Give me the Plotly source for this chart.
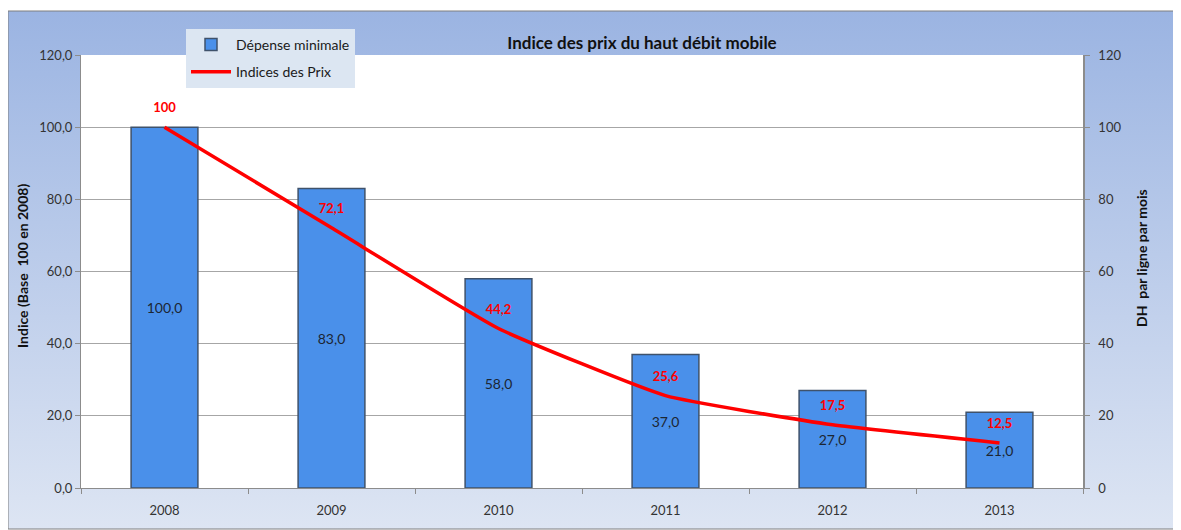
import base64
import plotly.graph_objects as go

# ---- data ----
years = ["2008", "2009", "2010", "2011", "2012", "2013"]
depense_minimale = [100.0, 83.0, 58.0, 37.0, 27.0, 21.0]
indices_prix = [100, 72.1, 44.2, 25.6, 17.5, 12.5]
left_tickvals = [0, 20, 40, 60, 80, 100, 120]
left_ticktext = ["0,0", "20,0", "40,0", "60,0", "80,0", "100,0", "120,0"]
right_tickvals = [0, 20, 40, 60, 80, 100, 120]
title_text = "Indice des prix du haut débit mobile"
left_title = "Indice (Base  100 en 2008)"
right_title = "DH  par ligne par mois"

FONT = "Lato, 'Open Sans', sans-serif"

# page offset (default body margin of the html page)
OFF = 8
PAGE_W, PAGE_H = 1181, 530
W, H = PAGE_W - OFF, PAGE_H - OFF
# plot area in page pixels
PX0, PX1, PY0, PY1 = 81, 1083, 55, 488
L, R, T, B = PX0 - OFF, (PAGE_W - PX1), PY0 - OFF, (PAGE_H - PY1)
pw, ph = PX1 - PX0, PY1 - PY0

def px_x(x):
    return (x - PX0) / pw

def px_y(y):
    return (PY1 - y) / ph

# gradient background for the chart frame
svg = (
    '<svg xmlns="http://www.w3.org/2000/svg" width="100" height="100" preserveAspectRatio="none">'
    '<defs><linearGradient id="g" x1="0" y1="0" x2="0" y2="1">'
    '<stop offset="0" stop-color="#9bb4e2"/><stop offset="1" stop-color="#dde5f3"/>'
    '</linearGradient></defs><rect width="100" height="100" fill="url(#g)"/></svg>'
)
svg_uri = "data:image/svg+xml;base64," + base64.b64encode(svg.encode()).decode()

fx0, fx1, fy0, fy1 = 8, 1178, 11, 529  # frame in page px

fig = go.Figure()

fig.add_trace(go.Bar(
    x=years, y=depense_minimale, name="Dépense minimale",
    legendgroup="a",
    width=0.4,
    marker=dict(color="#4a90ea", line=dict(color="#3f526b", width=1.5)),
    texttemplate="%{y:.1f}", textposition="inside", insidetextanchor="middle",
    textangle=0, textfont=dict(family=FONT, size=14, color="#1c2633"),
    yaxis="y",
))

fig.add_trace(go.Scatter(
    x=years, y=indices_prix, name="Indices des Prix",
    legendgroup="b",
    mode="lines+markers+text",
    line=dict(color="#ff0000", width=3.5, shape="spline", smoothing=0.4),
    marker=dict(size=17, color="rgba(0,0,0,0)"),
    texttemplate="%{y:.4~g}", textposition="top center",
    textfont=dict(family=FONT, size=13, color="#ff0000", weight="bold"),
    cliponaxis=False,
    yaxis="y2",
))

fig.update_layout(
    width=W, height=H,
    margin=dict(l=L, r=R, t=T, b=B, autoexpand=False),
    paper_bgcolor="white",
    plot_bgcolor="white",
    separators=", ",
    font=dict(family=FONT, size=12, color="#333333"),
    showlegend=True,
    legend=dict(
        x=px_x(186), y=px_y(29), xanchor="left", yanchor="top",
        bgcolor="#dce6f2", borderwidth=0,
        font=dict(family=FONT, size=14, color="#1a1a1a"),
        itemwidth=40, tracegroupgap=6,
    ),
    title=dict(text="<b>" + title_text + "</b>", x=(642 - OFF) / W, xanchor="center",
               y=1 - (43 - OFF) / H, yanchor="middle",
               font=dict(family=FONT, size=17, color="#111111")),
    xaxis=dict(
        type="category", tickson="boundaries", ticks="outside", ticklen=5,
        tickcolor="#8c8c8c", showline=True, linecolor="#8c8c8c", linewidth=1,
        showgrid=False, ticklabelstandoff=10,
        tickfont=dict(family=FONT, size=13, color="#333333"),
    ),
    yaxis=dict(
        range=[0, 120], tickvals=left_tickvals, ticktext=left_ticktext,
        ticks="outside", ticklen=5, tickcolor="#8c8c8c",
        showline=True, linecolor="#8c8c8c", linewidth=1,
        showgrid=True, gridcolor="#a6a6a6", gridwidth=1, zeroline=False,
        tickfont=dict(family=FONT, size=13, color="#333333"),
    ),
    yaxis2=dict(
        range=[0, 120], tickvals=right_tickvals, overlaying="y", side="right",
        ticks="outside", ticklen=5, tickcolor="#8c8c8c",
        showline=True, linecolor="#8c8c8c", linewidth=1.5,
        showgrid=False, zeroline=False, ticklabelstandoff=6,
        tickfont=dict(family=FONT, size=13, color="#333333"),
    ),
    images=[dict(
        source=svg_uri, xref="paper", yref="paper",
        x=px_x(fx0), y=px_y(fy0), sizex=(fx1 - fx0) / pw, sizey=(fy1 - fy0) / ph,
        xanchor="left", yanchor="top", sizing="stretch", layer="below",
    )],
    shapes=[
        dict(type="rect", xref="paper", yref="paper", x0=0, x1=1, y0=0, y1=1,
             fillcolor="white", line=dict(width=0), layer="below"),
        dict(type="rect", xref="paper", yref="paper",
             x0=px_x(fx0), x1=px_x(fx1), y0=px_y(fy1), y1=px_y(fy0),
             line=dict(color="#7f7f7f", width=1), layer="below"),
    ],
    annotations=[
        dict(text="<b>" + left_title + "</b>", xref="paper", yref="paper",
             x=px_x(22), y=px_y(266), textangle=-90, showarrow=False,
             xanchor="center", yanchor="middle",
             font=dict(family=FONT, size=14, color="#111111")),
        dict(text="<b>" + right_title + "</b>", xref="paper", yref="paper",
             x=px_x(1141), y=px_y(258), textangle=-90, showarrow=False,
             xanchor="center", yanchor="middle",
             font=dict(family=FONT, size=14, color="#111111")),
    ],
)

fig.write_html("out.html")
